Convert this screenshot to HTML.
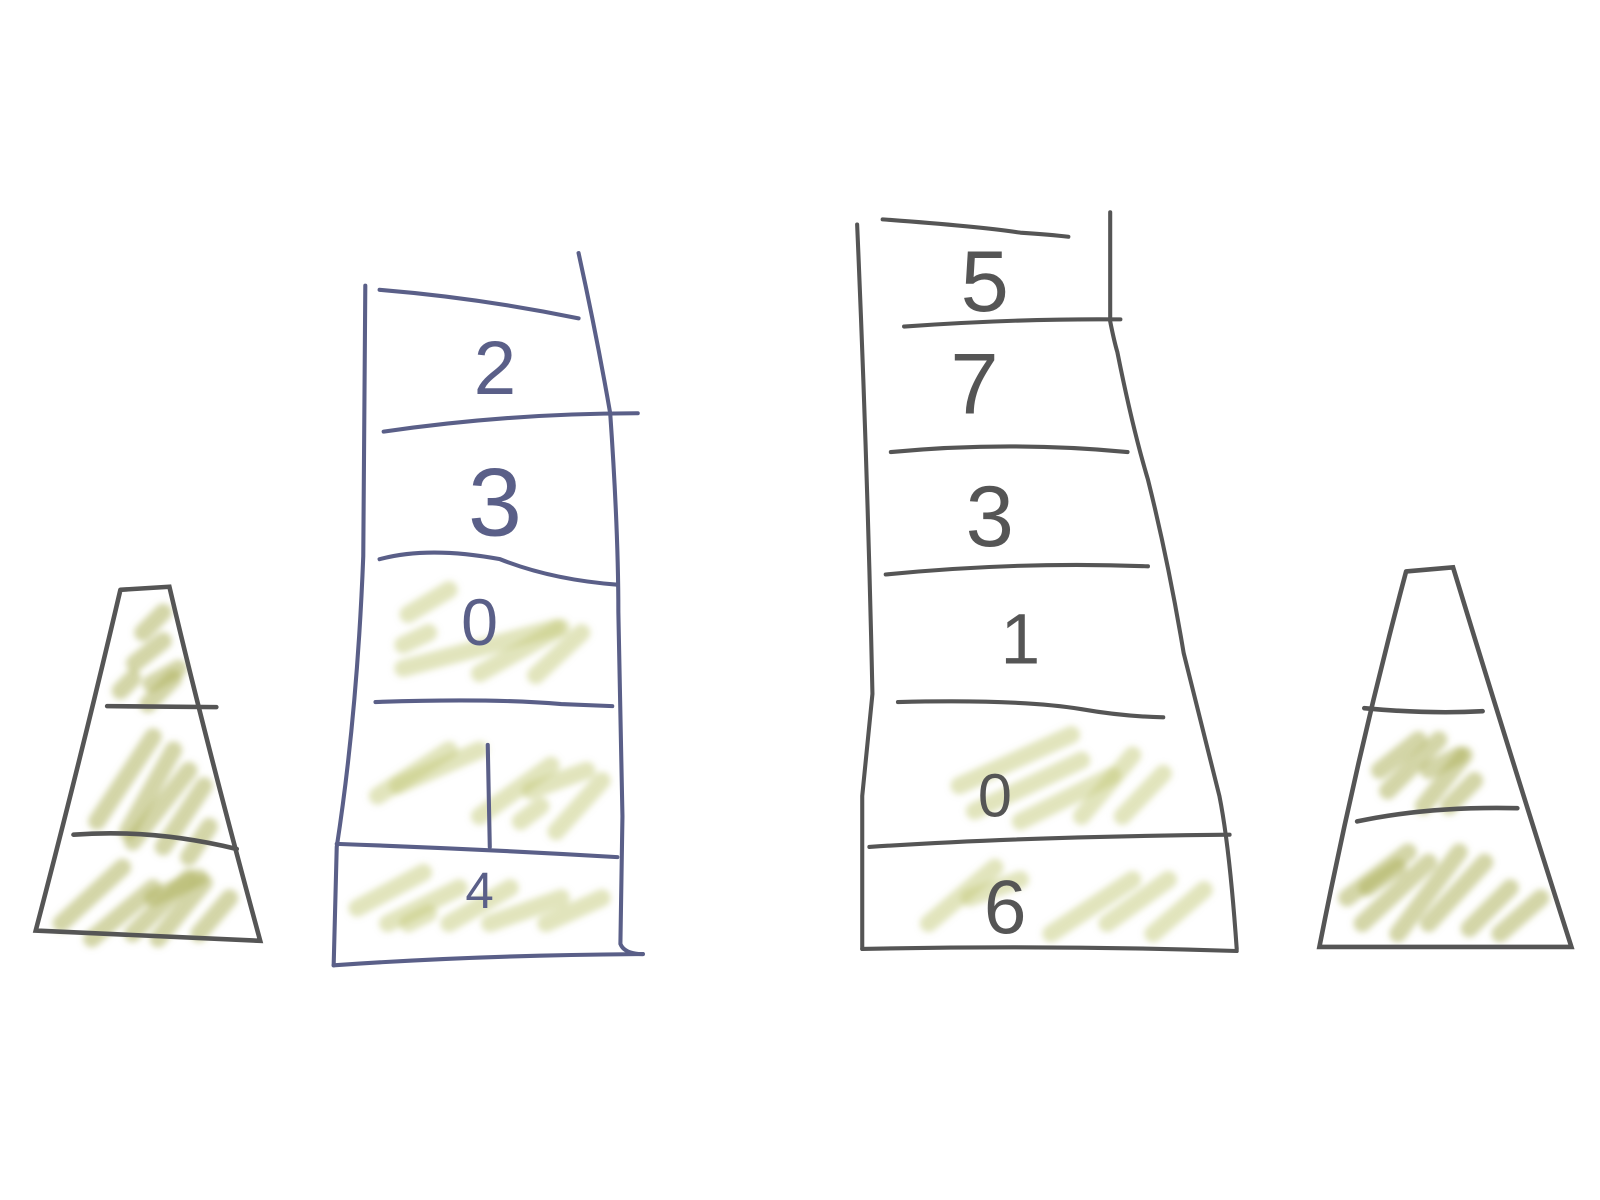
<!DOCTYPE html>
<html><head><meta charset="utf-8"><style>
html,body{margin:0;padding:0;background:#fff;width:1600px;height:1200px;overflow:hidden}
svg{display:block}
text{font-family:"Liberation Sans",sans-serif;text-anchor:middle}
</style></head><body>
<svg id="s" width="1600" height="1200" viewBox="0 0 1600 1200">
<defs><filter id="blur" x="-10%" y="-10%" width="120%" height="120%"><feGaussianBlur stdDeviation="3"/></filter></defs>
<g transform="scale(1.0204)">
<g id="hatch" stroke="#c4c97a" stroke-opacity="0.5" stroke-width="17" stroke-linecap="round" fill="none" filter="url(#blur)"></g>
<g id="hatch2" stroke="#aeb35e" stroke-opacity="0.55" stroke-width="17" stroke-linecap="round" fill="none" filter="url(#blur)"></g>
<g fill="none" stroke="#555" stroke-width="4.5" stroke-linecap="round">
<path d="M118 578 L166 575 Q200 720 255 922 L35 912 Q80 740 118 578"/>
<path d="M105 692 L212 693"/><path d="M72 818 Q150 812 232 832"/>
</g>
<g fill="none" stroke="#5a5f88" stroke-width="4" stroke-linecap="round">
<path d="M358 280 L356 545 Q350 700 330 830 L327 946"/>
<path d="M567 248 Q585 330 598 405 Q606 520 606 600 L610 800 L608 925 Q612 935 630 935"/>
<path d="M327 946 Q470 936 630 935"/>
<path d="M372 284 Q470 292 567 312"/>
<path d="M376 423 Q500 405 625 405"/>
<path d="M372 548 Q420 535 490 548 Q540 568 605 573"/>
<path d="M368 688 Q480 684 550 690 L600 692"/>
<path d="M330 827 Q470 832 605 840"/>
<path d="M478 730 L480 830"/>
</g>
<g fill="none" stroke="#555" stroke-width="4" stroke-linecap="round">
<path d="M840 220 Q850 450 855 680 Q850 730 845 780 L845 930"/>
<path d="M1088 208 L1088 315 Q1092 335 1095 345 Q1110 420 1125 470 Q1145 550 1160 640 Q1180 720 1195 780 Q1205 830 1212 930"/>
<path d="M845 930 Q1030 926 1212 932"/>
<path d="M865 215 Q960 222 1000 228 Q1030 230 1047 232"/>
<path d="M886 320 Q1000 312 1098 313"/>
<path d="M873 443 Q990 432 1105 443"/>
<path d="M868 563 Q1000 550 1125 555"/>
<path d="M880 688 Q1000 685 1060 695 Q1100 702 1140 703"/>
<path d="M852 830 Q1000 820 1205 818"/>
</g>
<g fill="none" stroke="#555" stroke-width="4.5" stroke-linecap="round">
<path d="M1378 560 L1424 556 Q1480 740 1540 928 L1293 928 Q1330 740 1378 560"/>
<path d="M1337 694 Q1400 700 1453 697"/><path d="M1330 805 Q1400 790 1487 792"/>
</g>
<g id="labels"></g>
</g>
</svg>
<script>
const leftDigits = ["2","3","0","4"];
const rightDigits = ["5","7","3","1","0","6"];
const ns="http://www.w3.org/2000/svg";
const labels=document.getElementById('labels');
const leftPos=[[485,386,75],[485,525,95],[470,632,65],[470,890,50]];
const rightPos=[[965,305,85],[955,405,85],[970,535,85],[1000,650,70],[975,800,60],[985,915,75]];
function put(d,p,color,name){
  const t=document.createElementNS(ns,'text');
  t.setAttribute('x',p[0]);t.setAttribute('y',p[1]);t.setAttribute('fill',color);
  t.setAttribute('font-size',p[2]);
  t.textContent=d;
  
  
  labels.appendChild(t);
}
leftDigits.forEach((d,i)=>put(d,leftPos[i],'#5a5f88','left-digit-'+i));
rightDigits.forEach((d,i)=>put(d,rightPos[i],'#555','right-digit-'+i));
const strokes=[
[400,602,440,578],[395,655,545,615],[470,660,550,615],[525,662,570,620],[395,632,420,620],
[370,780,440,735],[390,770,470,735],[470,800,540,750],[520,775,575,755],[545,815,590,765],[510,805,530,790],
[350,890,415,855],[380,905,450,870],[440,905,500,870],[480,905,550,880],[535,905,590,880],[400,905,420,895],
[940,770,1050,720],[955,795,1060,745],[1000,805,1090,760],[1060,800,1110,740],[1100,800,1140,758],
[910,905,975,850],[950,880,1000,862],[1030,915,1110,862],[1085,905,1145,862],[1130,915,1180,872]
];
const coneStrokes=[
[140,620,160,600],[132,650,160,628],[118,677,130,665],[145,690,170,665],[148,670,175,655],
[95,805,150,722],[125,815,170,735],[130,825,185,755],[160,830,200,770],[185,840,205,810],
[60,905,120,850],[90,920,150,870],[130,915,185,860],[155,920,200,865],[195,915,225,880],[150,880,195,860],
[1352,755,1390,725],[1360,775,1410,725],[1395,790,1435,740],[1420,790,1445,765],[1400,755,1430,740],
[1320,880,1380,835],[1335,905,1400,845],[1370,915,1430,835],[1400,905,1455,845],[1440,910,1480,870],[1470,915,1510,880],[1340,870,1370,850]
];
function draw(g,arr){arr.forEach(s=>{
  const l=document.createElementNS(ns,'line');
  l.setAttribute('x1',s[0]);l.setAttribute('y1',s[1]);l.setAttribute('x2',s[2]);l.setAttribute('y2',s[3]);
  
  
  g.appendChild(l);
});}
draw(document.getElementById('hatch'),strokes);
draw(document.getElementById('hatch2'),coneStrokes);
</script>
</body></html>
